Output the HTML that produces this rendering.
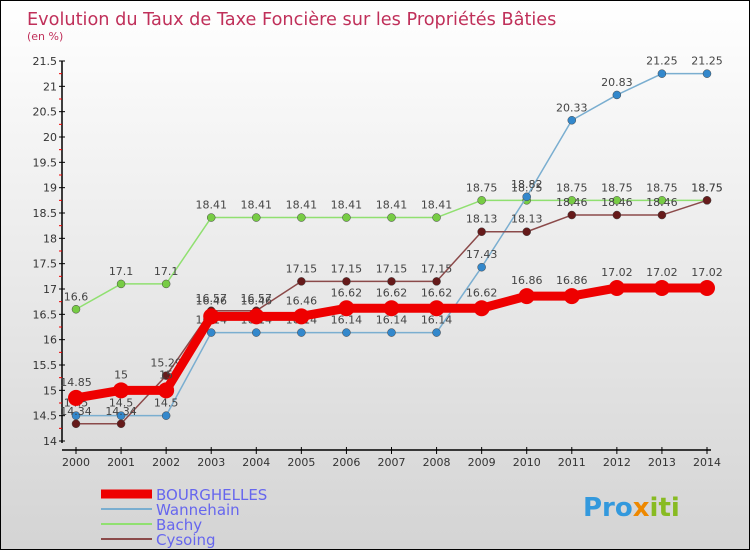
<!DOCTYPE html>
<html><head><meta charset="utf-8"><style>
body{margin:0}
#c{width:750px;height:550px;position:relative;box-sizing:border-box;border:1px solid #000;background:linear-gradient(#fff,#d4d4d4);font-family:"DejaVu Sans","Liberation Sans",sans-serif;overflow:hidden}
</style></head><body>
<div id="c">
<svg id="s" width="750" height="550" style="position:absolute;left:0;top:0">
<text x="26" y="24" font-size="17.7" fill="#c0305a">Evolution du Taux de Taxe Foncière sur les Propriétés Bâties</text>
<text x="26" y="39" font-size="11" fill="#c0305a">(en %)</text>
<g id="ax"></g><g id="ser"></g>
<g>
<line x1="100" y1="493" x2="151" y2="493" stroke="#e00" stroke-width="9"/>
<text x="155" y="499" font-size="15" fill="#6666ee">BOURGHELLES</text>
<line x1="100" y1="508" x2="151" y2="508" stroke="#7aaed0" stroke-width="2"/>
<text x="155" y="514" font-size="15" fill="#6666ee">Wannehain</text>
<line x1="100" y1="523" x2="151" y2="523" stroke="#90e070" stroke-width="2"/>
<text x="155" y="529" font-size="15" fill="#6666ee">Bachy</text>
<line x1="100" y1="538" x2="151" y2="538" stroke="#8b4a4a" stroke-width="2"/>
<text x="155" y="544" font-size="15" fill="#6666ee">Cysoing</text>
</g>
<text x="582" y="515" font-size="26" font-weight="bold" fill="#3399dd">Pro<tspan fill="#ee8800">x</tspan><tspan fill="#88bb22">iti</tspan></text>
</svg>
</div>
<script>
const years=[2000,2001,2002,2003,2004,2005,2006,2007,2008,2009,2010,2011,2012,2013,2014];
const yTicks=[14,14.5,15,15.5,16,16.5,17,17.5,18,18.5,19,19.5,20,20.5,21,21.5];
const bourghelles=[14.85,15,15,16.46,16.46,16.46,16.62,16.62,16.62,16.62,16.86,16.86,17.02,17.02,17.02];
const wannehain=[14.5,14.5,14.5,16.14,16.14,16.14,16.14,16.14,16.14,17.43,18.82,20.33,20.83,21.25,21.25];
const bachy=[16.6,17.1,17.1,18.41,18.41,18.41,18.41,18.41,18.41,18.75,18.75,18.75,18.75,18.75,18.75];
const cysoing=[14.34,14.34,15.29,16.57,16.57,17.15,17.15,17.15,17.15,18.13,18.13,18.46,18.46,18.46,18.75];
const NS="http://www.w3.org/2000/svg";
const X=i=>75+i*(706-75)/14;
const Y=v=>440-(v-14)*(380/7.5);
function mk(t,a,p){const e=document.createElementNS(NS,t);for(const k in a)e.setAttribute(k,a[k]);p.appendChild(e);return e;}
const ax=document.getElementById('ax');
let l=mk('line',{x1:61,y1:60,x2:61,y2:442,stroke:'#000','stroke-width':1.5},ax);


l=mk('line',{x1:61,y1:449,x2:710,y2:449,stroke:'#000','stroke-width':1.5},ax);


yTicks.forEach((v,i)=>{
 mk('line',{x1:58,y1:Y(v),x2:64,y2:Y(v),stroke:'#000'},ax);
 if(i<yTicks.length-1)mk('line',{x1:58,y1:Y(v+0.25),x2:61,y2:Y(v+0.25),stroke:'#e00'},ax);
 const t=mk('text',{x:56,y:Y(v)+4,'font-size':11,fill:'#333','text-anchor':'end'},ax);t.textContent=String(v);
 
 
});
years.forEach((y,i)=>{
 mk('line',{x1:X(i),y1:446,x2:X(i),y2:453,stroke:'#000'},ax);
 const t=mk('text',{x:X(i),y:465,'font-size':11,fill:'#333','text-anchor':'middle'},ax);t.textContent=y;
 
 
});
const ser=document.getElementById('ser');
function draw(vals,col,w,r,name,lc,dy){
 const g=mk('g',{},ser);
 
 
 mk('polyline',{points:vals.map((v,i)=>X(i)+','+Y(v)).join(' '),fill:'none',stroke:col,'stroke-width':w,'stroke-linejoin':'round'},g);
 vals.forEach((v,i)=>{
  const c=mk('circle',{cx:X(i),cy:Y(v),r:r,fill:lc,stroke:'#444','stroke-width':r>6?0:0.5},g);
  
  
  const t=mk('text',{x:X(i),y:Y(v)-dy,'font-size':11,fill:'#444','text-anchor':'middle'},g);t.textContent=String(v);
 });
}
draw(bachy,'#90e070',1.5,4,'bachy','#77cc44',9);
draw(wannehain,'#7aaed0',1.5,4,'wannehain','#3388cc',9);
draw(cysoing,'#8b4a4a',1.5,4,'cysoing','#661a1a',9);
draw(bourghelles,'#ee0000',9,8,'bourghelles','#ee0000',12);
</script>
</body></html>
